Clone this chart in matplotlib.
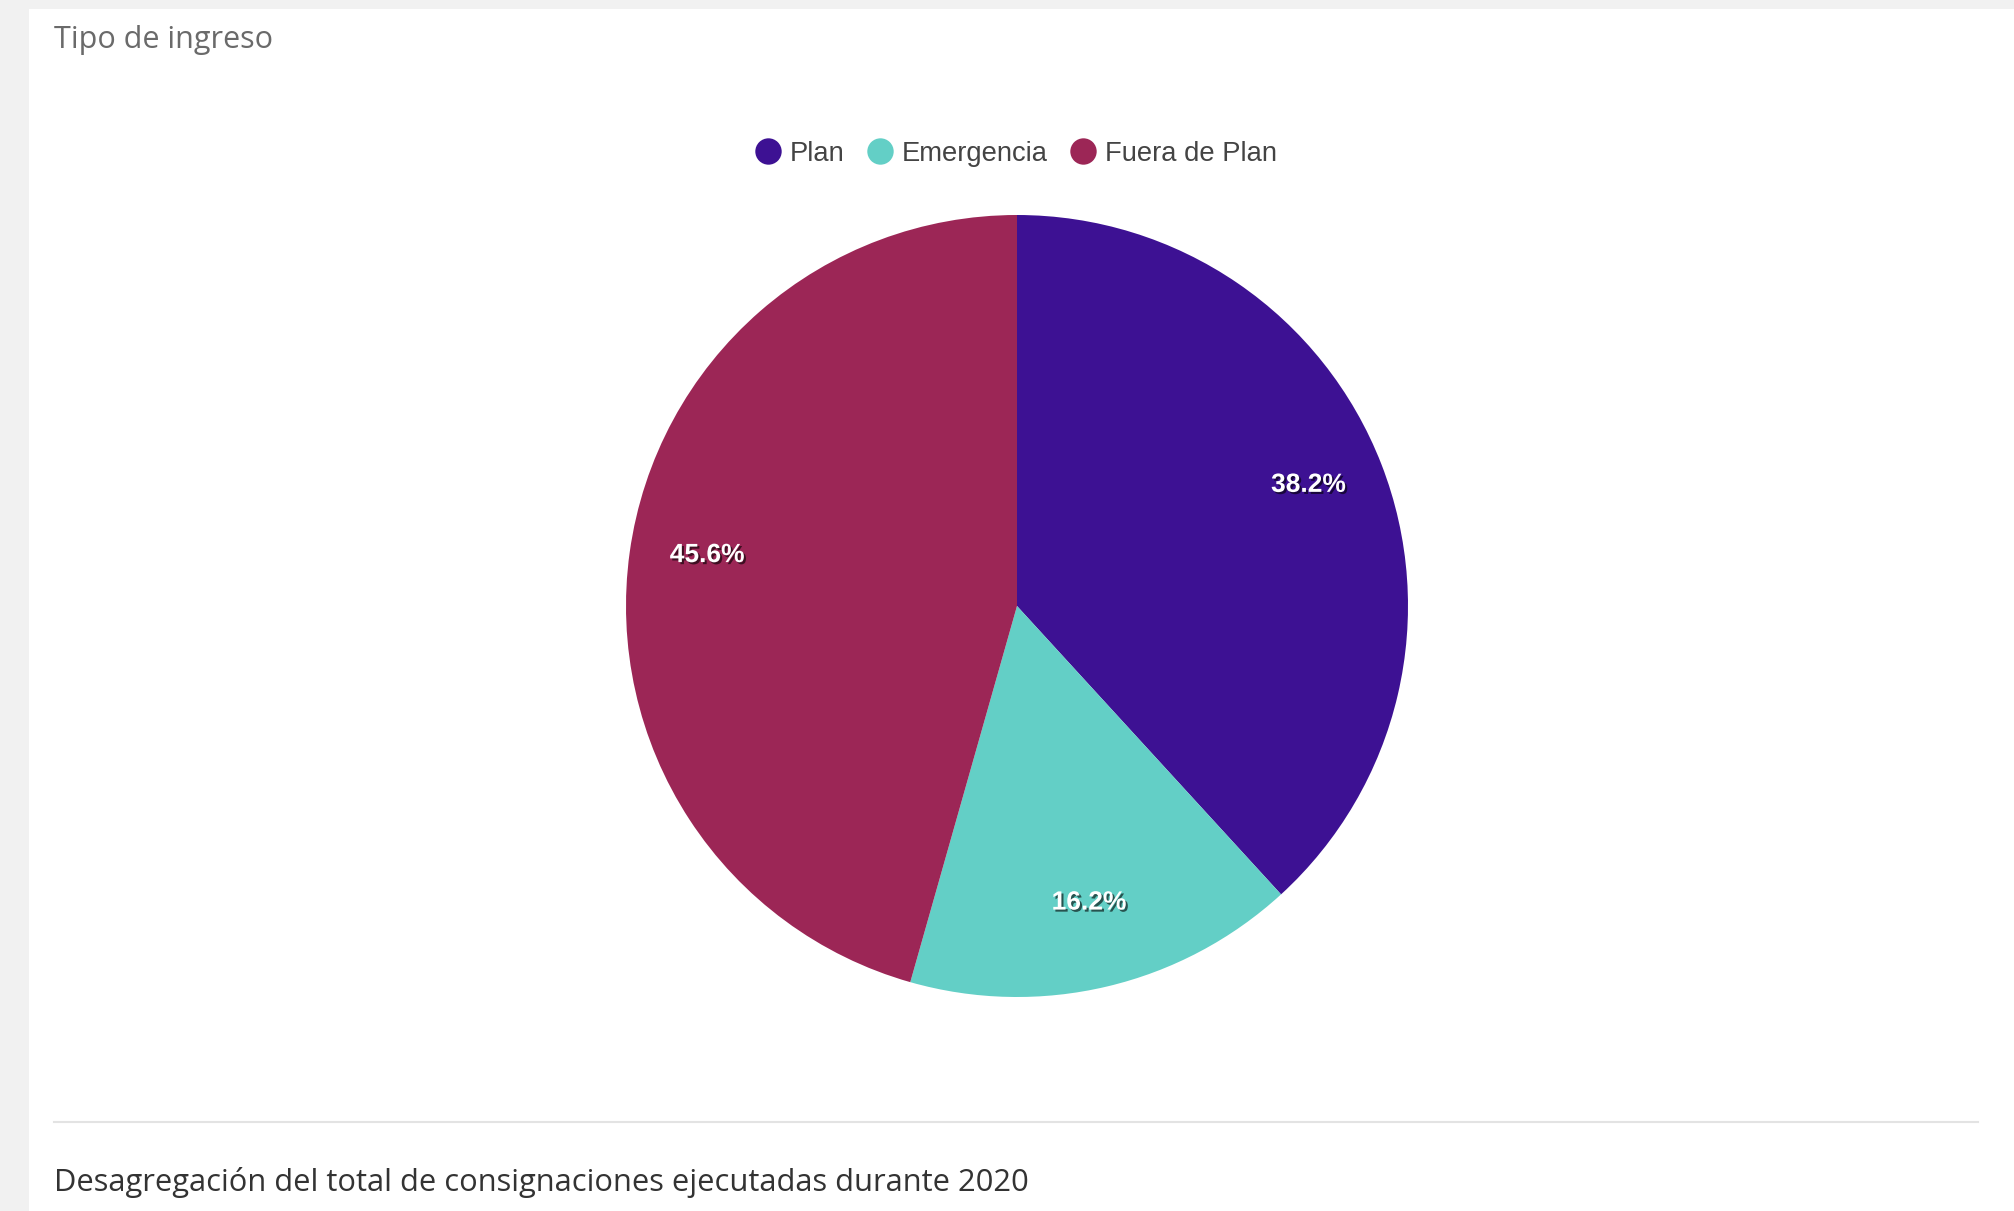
import matplotlib
matplotlib.use('Agg')
import matplotlib.pyplot as plt
import matplotlib.patheffects as pe
from matplotlib.lines import Line2D
from matplotlib.patches import Rectangle

# data
labels = ['Plan', 'Emergencia', 'Fuera de Plan']
shares = [38.2, 16.2, 45.6]
colors = ['#3d1193', '#63cfc6', '#9c2656']
title = 'Tipo de ingreso'
footer = 'Desagregación del total de consignaciones ejecutadas durante 2020'

W, H = 2014, 1211
fig = plt.figure(figsize=(W / 100, H / 100), dpi=100, facecolor='#f1f1f1')

# white card
fig.patches.append(Rectangle((29 / W, 0), 1, 1 - 9 / H, transform=fig.transFigure,
                             facecolor='white', edgecolor='none', zorder=-10))

fig.text(54 / W, 1 - 40 / H, title, fontsize=22, color='#6a6a6a',
         family='Open Sans', va='center', ha='left')

# pie, centre (1017, 606) px, radius 391 px
cx, cy, r = 1017, 606, 391
ax = fig.add_axes([(cx - r) / W, (H - cy - r) / H, 2 * r / W, 2 * r / H])
ax.set_zorder(5)
wedges, texts, autotexts = ax.pie(
    shares, colors=colors, startangle=90, counterclock=False,
    autopct='%1.1f%%', pctdistance=0.8, radius=1,
    wedgeprops=dict(linewidth=0))
ax.set_xlim(-1, 1)
ax.set_ylim(-1, 1)
ax.axis('off')
for t in autotexts:
    x, y = t.get_position()
    t.set_position((x, y + 0.02))
    t.set_color('white')
    t.set_fontsize(19)
    t.set_fontweight('bold')
    t.set_family('Liberation Sans')
    t.set_path_effects([pe.withSimplePatchShadow(offset=(1.5, -1.5), shadow_rgbFace='black', alpha=0.6)])

handles = [Line2D([], [], marker='o', linestyle='', markersize=19,
                  markerfacecolor=c, markeredgecolor='none') for c in colors]
fig.legend(handles, labels, loc='center', bbox_to_anchor=(cx / W, 1 - 154 / H),
           ncol=3, frameon=False, handlelength=0.8, handletextpad=0.4,
           columnspacing=0.9, prop={'family': 'Liberation Sans', 'size': 19.7},
           labelcolor='#444444')

# separator and footer
fig.add_artist(Line2D([54 / W, 1978 / W], [1 - 1122 / H, 1 - 1122 / H],
                      transform=fig.transFigure, color='#e3e3e3', linewidth=1.5))
fig.text(54 / W, 1 - 1182 / H, footer, fontsize=22.2, color='#333333',
         family='Open Sans', va='center', ha='left')

fig.savefig('out.png', dpi=100, facecolor=fig.get_facecolor())
